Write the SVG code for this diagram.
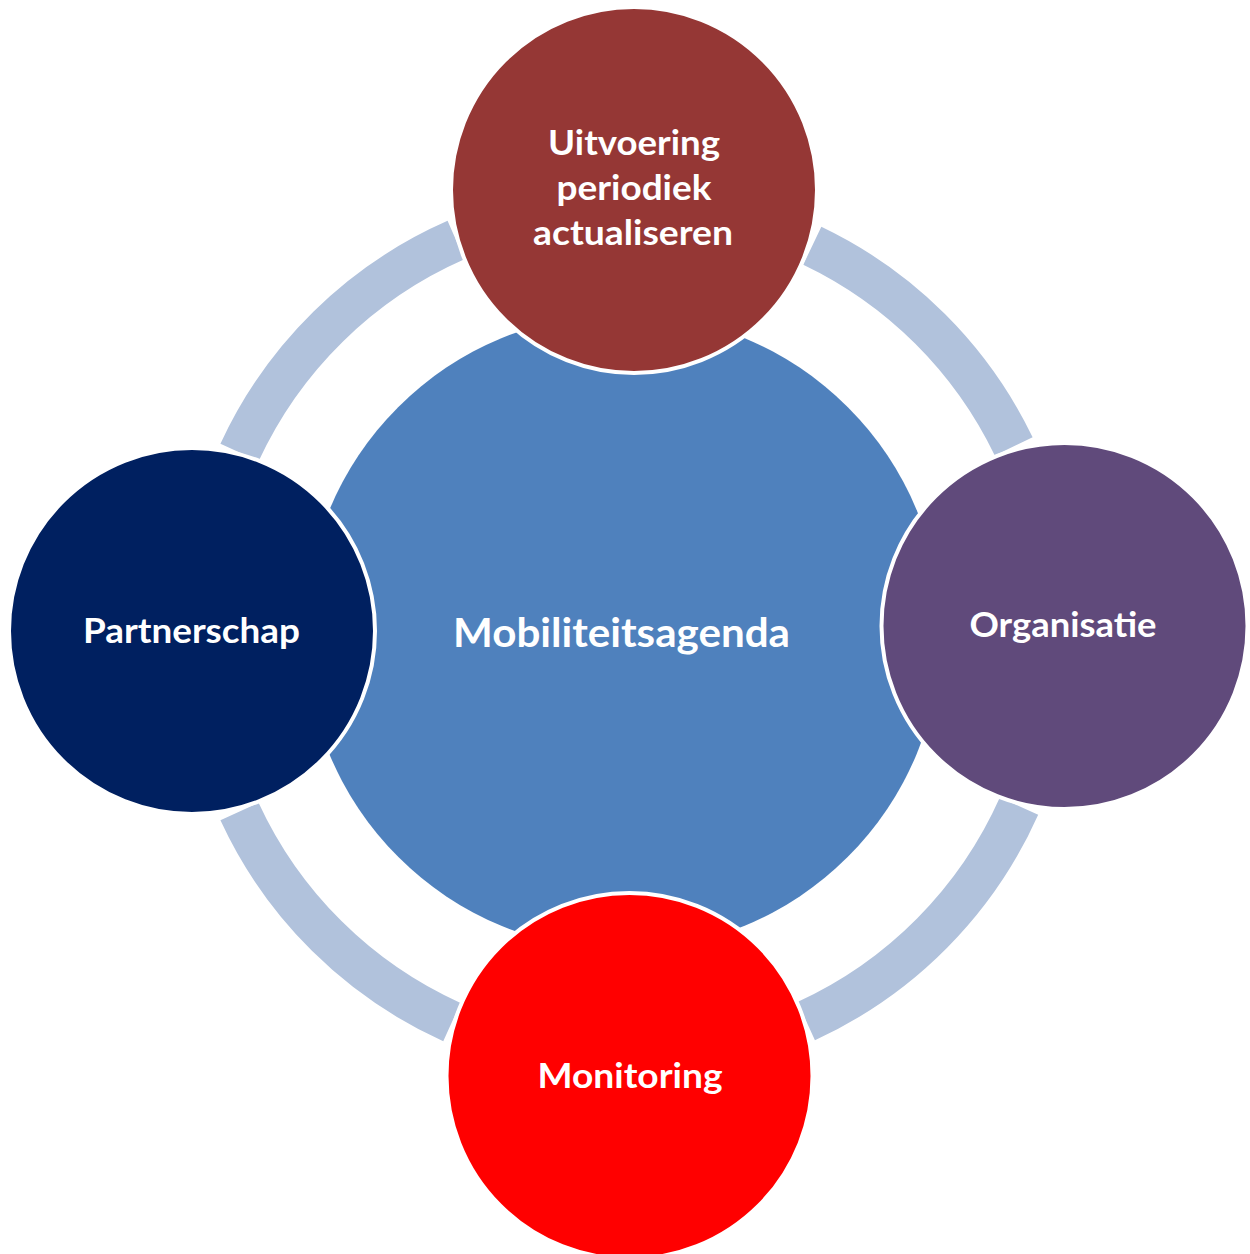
<svg xmlns="http://www.w3.org/2000/svg" width="1250" height="1254" viewBox="0 0 1250 1254">
  <style>
    .ring { fill: none; stroke: #B1C2DC; stroke-width: 42; stroke-linecap: butt; }
    .node { stroke: #FFFFFF; stroke-width: 4; }
    .label { fill: #FFFFFF; font-family: Lato, "Open Sans", "Liberation Sans", sans-serif; font-weight: bold; text-anchor: middle; font-size: 34px; }
    .big { font-size: 40px; }
  </style>
  <rect x="0" y="0" width="1250" height="1254" fill="#FFFFFF"/>
  <g id="connectors">
    <path class="ring" d="M 239.5 452.5 A 428 428 0 0 1 456.0 240.1"/>
    <path class="ring" d="M 812.3 245.7 A 428 428 0 0 1 1013.7 446.4"/>
    <path class="ring" d="M 1019.0 806.1 A 428 428 0 0 1 806.2 1021.1"/>
    <path class="ring" d="M 451.9 1022.1 A 428 428 0 0 1 239.5 811.5"/>
  </g>
  <g id="node-center">
    <circle cx="623" cy="632" r="318" fill="#4F81BD"/>
    <text class="label big" x="621.5" y="647" textLength="337" lengthAdjust="spacingAndGlyphs">Mobiliteitsagenda</text>
  </g>
  <g id="node-top">
    <circle class="node" cx="634" cy="190" r="183" fill="#953735"/>
    <text class="label" x="634" y="155" textLength="172" lengthAdjust="spacingAndGlyphs">Uitvoering</text>
    <text class="label" x="634" y="200" textLength="155" lengthAdjust="spacingAndGlyphs">periodiek</text>
    <text class="label" x="633" y="245" textLength="200" lengthAdjust="spacingAndGlyphs">actualiseren</text>
  </g>
  <g id="node-right">
    <circle class="node" cx="1064.5" cy="626" r="183" fill="#604A7B"/>
    <text class="label" x="1063" y="637" textLength="187" lengthAdjust="spacingAndGlyphs">Organisatie</text>
  </g>
  <g id="node-bottom">
    <circle class="node" cx="629.5" cy="1076" r="183" fill="#FF0000"/>
    <text class="label" x="630" y="1088" textLength="185" lengthAdjust="spacingAndGlyphs">Monitoring</text>
  </g>
  <g id="node-left">
    <circle class="node" cx="192" cy="631" r="183" fill="#002060"/>
    <text class="label" x="191.5" y="643" textLength="217" lengthAdjust="spacingAndGlyphs">Partnerschap</text>
  </g>
</svg>
